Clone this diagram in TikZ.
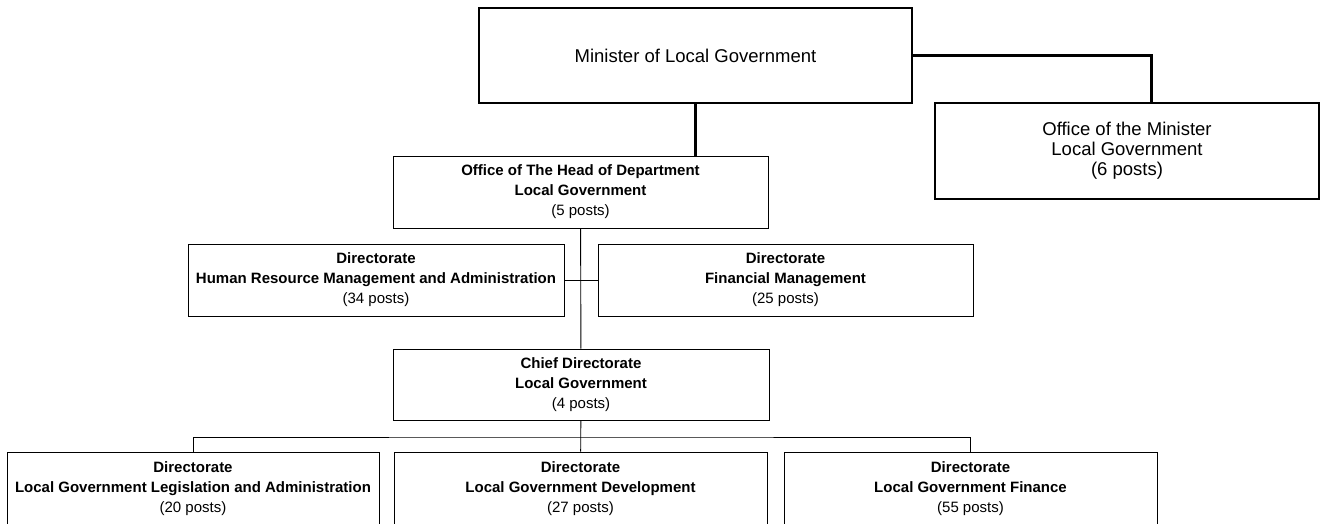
\documentclass[tikz,border=0pt]{standalone}
\usepackage{fontspec}
\setmainfont{Liberation Sans}
\usetikzlibrary{positioning,calc}

\begin{document}
\begin{tikzpicture}[x=1pt, y=-1pt,
    every node/.style={font=\fontsize{15}{20}\selectfont},
    unitbox/.style={draw, line width=0.9pt, align=center, inner sep=0pt, minimum height=72pt},
    topbox/.style={draw, line width=2.4pt, align=center, inner sep=0pt,
      font=\fontsize{18.5}{20}\selectfont},
    link/.style={line width=0.9pt},
    toplink/.style={line width=3pt}]

    \useasboundingbox (0,0) rectangle (1324,524);

    % === Minister and his office ===
    \node[topbox, minimum width=433pt, minimum height=95pt] (minister) at (695.5,55.5)
      {Minister of Local Government};
    \node[topbox, minimum width=384pt, minimum height=96pt] (ministeroffice) at (1127,151)
      {Office of the Minister\\Local Government\\(6 posts)};
    \coordinate (officetap) at ([xshift=24pt]ministeroffice.north);

    % === Head of Department and support directorates ===
    \node[unitbox, minimum width=375pt] (hod) at (580.5,192)
      {\textbf{Office of The Head of Department}\\\textbf{Local Government}\\(5 posts)};
    \node[unitbox, minimum width=376pt] (hrm) at (376,280)
      {\textbf{Directorate}\\\textbf{Human Resource Management and Administration}\\(34 posts)};
    \node[unitbox, minimum width=375pt] (finmgmt) at (785.5,280)
      {\textbf{Directorate}\\\textbf{Financial Management}\\(25 posts)};

    % === Chief Directorate and its line directorates ===
    \node[unitbox, minimum width=376pt, minimum height=71pt] (chiefdir) at (581,384.5)
      {\textbf{Chief Directorate}\\\textbf{Local Government}\\(4 posts)};
    \node[unitbox, minimum width=372pt, minimum height=74pt] (lglegis) at (193,489)
      {\textbf{Directorate}\\\textbf{Local Government Legislation and Administration}\\(20 posts)};
    \node[unitbox, minimum width=373pt, minimum height=74pt] (lgdev) at (580.5,489)
      {\textbf{Directorate}\\\textbf{Local Government Development}\\(27 posts)};
    \node[unitbox, minimum width=373pt, minimum height=74pt] (lgfin) at (970.5,489)
      {\textbf{Directorate}\\\textbf{Local Government Finance}\\(55 posts)};
    \coordinate (bus) at (580.5,437);

    % === Reporting lines ===
    \draw[toplink] (minister.east) -| (officetap);
    \draw[toplink] (minister.south) -- (minister.south |- hod.north);
    \draw[link] (hod) -- (chiefdir);
    \draw[link] (hrm) -- (finmgmt);
    \draw[link] (chiefdir) -- (lgdev);
    \draw[link] (lglegis.north) |- (bus) -| (lgfin.north);
\end{tikzpicture}
\end{document}
